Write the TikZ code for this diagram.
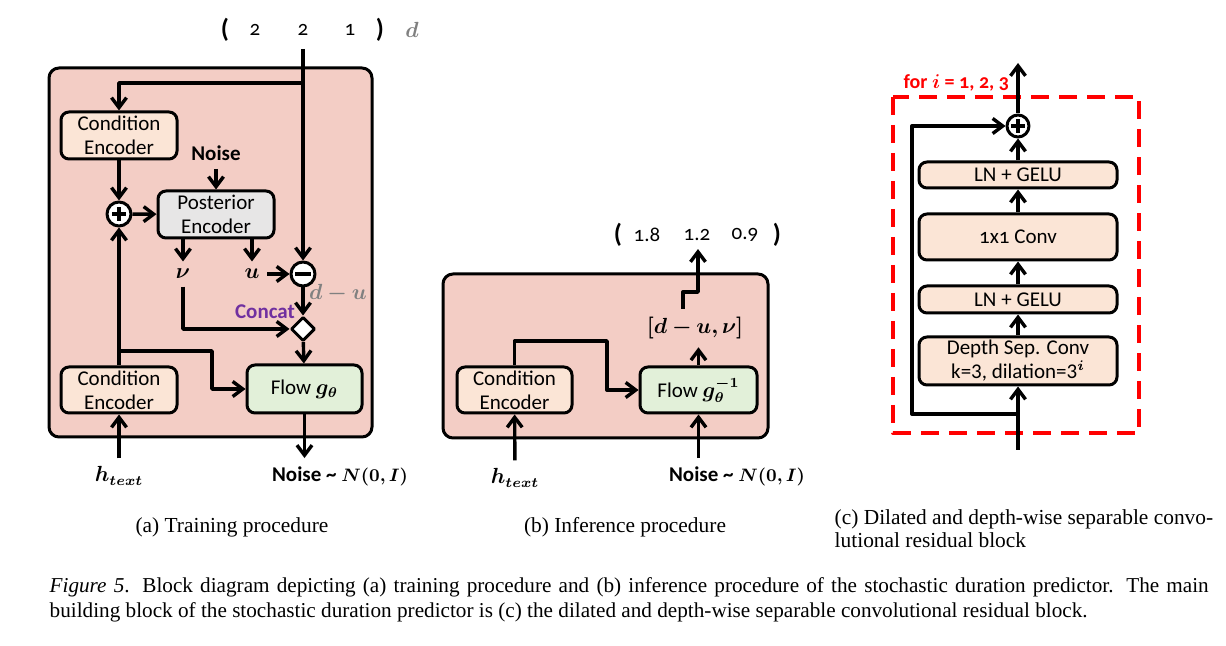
\documentclass[tikz,border=0pt]{standalone}
\usepackage{fontspec}
\usepackage{bm}
\setmainfont{Liberation Serif}
\newfontfamily\cfont{Carlito}
\usetikzlibrary{arrows.meta,shapes.geometric}
\definecolor{panelpink}{RGB}{243,205,197}
\definecolor{peach}{RGB}{251,229,214}
\definecolor{boxgray}{RGB}{231,230,230}
\definecolor{boxgreen}{RGB}{226,240,217}
\definecolor{concatpurple}{RGB}{112,48,160}
\definecolor{labelgray}{RGB}{128,128,128}
\begin{document}
\begin{tikzpicture}[x=0.5pt,y=-0.5pt,line join=round,>={Straight Barb[length=5pt,width=7.5pt]},line width=1.7pt]
\tikzset{every node/.style={font=\cfont\fontsize{10.5}{12}\selectfont},
  block/.style={draw,line width=1.5pt,rounded corners=4pt,align=center,inner sep=0pt,minimum width=58pt,minimum height=23.5pt},
  panel/.style={draw,line width=1.5pt,rounded corners=5pt,fill=panelpink},
  opnode/.style={draw,circle,fill=white,line width=1.5pt,minimum size=12pt,inner sep=0pt},
  joinnode/.style={draw,diamond,fill=white,line width=1.5pt,minimum size=12pt,inner sep=0pt},
  lbl/.style={inner sep=3pt},
  boldlbl/.style={font=\cfont\bfseries\fontsize{10.5}{12}\selectfont},
  numlbl/.style={font=\cfont\addfontfeature{Numbers=OldStyle}\fontsize{10.5}{12}\selectfont},
  bracket/.style={font=\cfont\bfseries\fontsize{13}{12}\selectfont},
  captxt/.style={font=\rmfamily\fontsize{10.7}{11.5}\selectfont,inner sep=0pt}}
\useasboundingbox (0,0) rectangle (1226,646);
% (a) training
\draw[panel] (49,68) rectangle (372,437);
\node[bracket] (ldA) at (225,30) {(};
\node[numlbl] (d1) at (255,30) {2};
\node[numlbl] (d2) at (303,30) {2};
\node[numlbl] (d3) at (350,30) {1};
\node[bracket] (rdA) at (380,30) {)};
\node[text=labelgray] (dA) at (412,30) {$\bm{d}$};
\node[block,fill=peach] (ce1) at (119,135.5) {Condition\\Encoder};
\node[boldlbl] (noiseA) at (216,153) {Noise};
\node[opnode] (plus1) at (119,214) {};
\node[block,fill=boxgray] (pe) at (216,214.5) {Posterior\\Encoder};
\node[lbl] (nu) at (183,274) {$\bm{\nu}$};
\node[lbl] (u) at (252,274) {$\bm{u}$};
\node[opnode] (minus1) at (303,274) {};
\node[text=labelgray] (dminusu) at (338,293) {$\bm{d-u}$};
\node[boldlbl,text=concatpurple] (concattxt) at (265,312) {Concat};
\node[joinnode] (concat) at (303,329) {};
\node[block,fill=boxgreen,minimum width=57.5pt,minimum height=24pt] (flow1) at (304.5,389) {Flow $\bm{g_\theta}$};
\node[block,fill=peach,minimum height=23pt] (ce2) at (119,390) {Condition\\Encoder};
\node (htextA) at (119,476) {$\bm{h_{text}}$};
\node[boldlbl] (noiseNA) at (340,476) {Noise \textasciitilde\ {\fontsize{9.5}{10}\selectfont$\bm{N(0,I)}$}};
\coordinate (brA) at (303,83);
\coordinate (brB) at (119,351);
\coordinate (kneeA) at (212,351);
\draw[->,shorten <=2.5pt] (d2.south) -- (minus1);
\draw[->] (brA) -| (ce1);
\draw[->] (ce1) -- (plus1);
\draw[->] (plus1) -- (pe);
\draw[->] (noiseA) -- (pe);
\draw[->] (pe.south -| nu) -- (nu);
\draw[->] (pe.south -| u) -- (u);
\draw[->] (u) -- (minus1);
\draw[->] (minus1) -- (concat);
\draw[->] (nu) |- (concat);
\draw[->] (concat) -- (flow1);
\draw[->] (ce2) -- (plus1);
\draw[->] (brB) -- (kneeA) |- (flow1);
\draw[->] (flow1) -- (flow1.south |- noiseNA.north);
\draw[->] (htextA) -- (ce2);
\draw[line width=2.4pt,line cap=butt] ([xshift=-4pt]minus1.center) -- ([xshift=4pt]minus1.center);
% (b) inference
\draw[panel] (443,274) rectangle (768,438);
\node[bracket] (ldB) at (618,235) {(};
\node[numlbl] (o1) at (647,235) {1.8};
\node[numlbl] (o2) at (697,235) {1.2};
\node[numlbl] (o3) at (745,235) {0.9};
\node[bracket] (rdB) at (777,235) {)};
\node[block,fill=peach,minimum width=57.5pt,minimum height=23pt] (ce3) at (514.5,390) {Condition\\Encoder};
\node[block,fill=boxgreen,minimum width=58.5pt,minimum height=23pt] (flow2) at (698.5,390) {Flow $\bm{g_\theta^{-1}}$};
\node (duv) at (695,328) {$\bm{[d-u,\nu]}$};
\node (htextB) at (515,478) {$\bm{h_{text}}$};
\node[boldlbl] (noiseNB) at (737,476) {Noise \textasciitilde\ {\fontsize{9.5}{10}\selectfont$\bm{N(0,I)}$}};
\coordinate (stepB1) at (683,292);
\coordinate (stepB2) at (698,292);
\coordinate (kneeB) at (607,341);
\draw[->] (ce3.north) |- (kneeB) |- (flow2);
\draw[->] (flow2) -- (flow2.north |- duv.south);
\draw[->] (duv.north -| stepB1) -- (stepB1) -- (stepB2) -- (stepB2 |- o2.south);
\draw[->] (htextB) -- (ce3);
\draw[->] (flow2.south |- noiseNB.north) -- (flow2);
% (c) residual block
\draw[red,line width=2pt,dash pattern=on 9pt off 5pt] (893,97) rectangle (1139,433);
\node[boldlbl,text=red,anchor=west,inner sep=0pt,font=\cfont\bfseries\fontsize{10}{12}\selectfont] (forlbl) at (902,83) {for $\bm{i}$ = \addfontfeature{Numbers=OldStyle}1, 2, 3};
\node[block,fill=peach,minimum width=99pt,minimum height=13pt] (ln1) at (1018,175) {LN + GELU};
\node[block,fill=peach,minimum width=99pt,minimum height=23pt] (conv) at (1018,237) {{\addfontfeature{Numbers=OldStyle}1x1} Conv};
\node[block,fill=peach,minimum width=99pt,minimum height=13.5pt] (ln2) at (1018,299.5) {LN + GELU};
\node[block,fill=peach,minimum width=99pt,minimum height=24pt] (dsc) at (1018,361) {Depth Sep. Conv\\k=3, dilation=3$^{\bm{i}}$};
\node[opnode,minimum size=11pt] (plus2) at (1018,126) {};
\coordinate (cin) at (1018,450);
\coordinate (skipA) at (1018,414);
\coordinate (skipB) at (912,126);
\coordinate (cout) at (1018,63);
\draw[->] (cin) -- (dsc);
\draw[->] (skipA) -| (skipB) -- (plus2);
\foreach \a/\b in {dsc/ln2,ln2/conv,conv/ln1,ln1/plus2,plus2/cout}
  \draw[->] (\a) -- (\b);
\foreach \p in {plus1,plus2}
  \draw[line width=2.2pt,line cap=butt] ([xshift=-3.5pt]\p.center) -- ([xshift=3.5pt]\p.center) ([yshift=-3.5pt]\p.center) -- ([yshift=3.5pt]\p.center);
% captions
\node[captxt] (capA) at (232,527) {(a) Training procedure};
\node[captxt] (capB) at (625,527) {(b) Inference procedure};
\node[captxt,align=left,anchor=west] (capC) at (833,528.5) {(c) Dilated and depth-wise separable convo-\\lutional residual block};
\node[captxt,align=justify,text width=579.5pt,anchor=west,font=\rmfamily\fontsize{10.6}{12.5}\selectfont] (capFig) at (48,600) {\textit{Figure 5}. Block diagram depicting (a) training procedure and (b) inference procedure of the stochastic duration predictor. The main\linebreak building block of the stochastic duration predictor is (c) the dilated and depth-wise separable convolutional residual block.};
\end{tikzpicture}
\end{document}
